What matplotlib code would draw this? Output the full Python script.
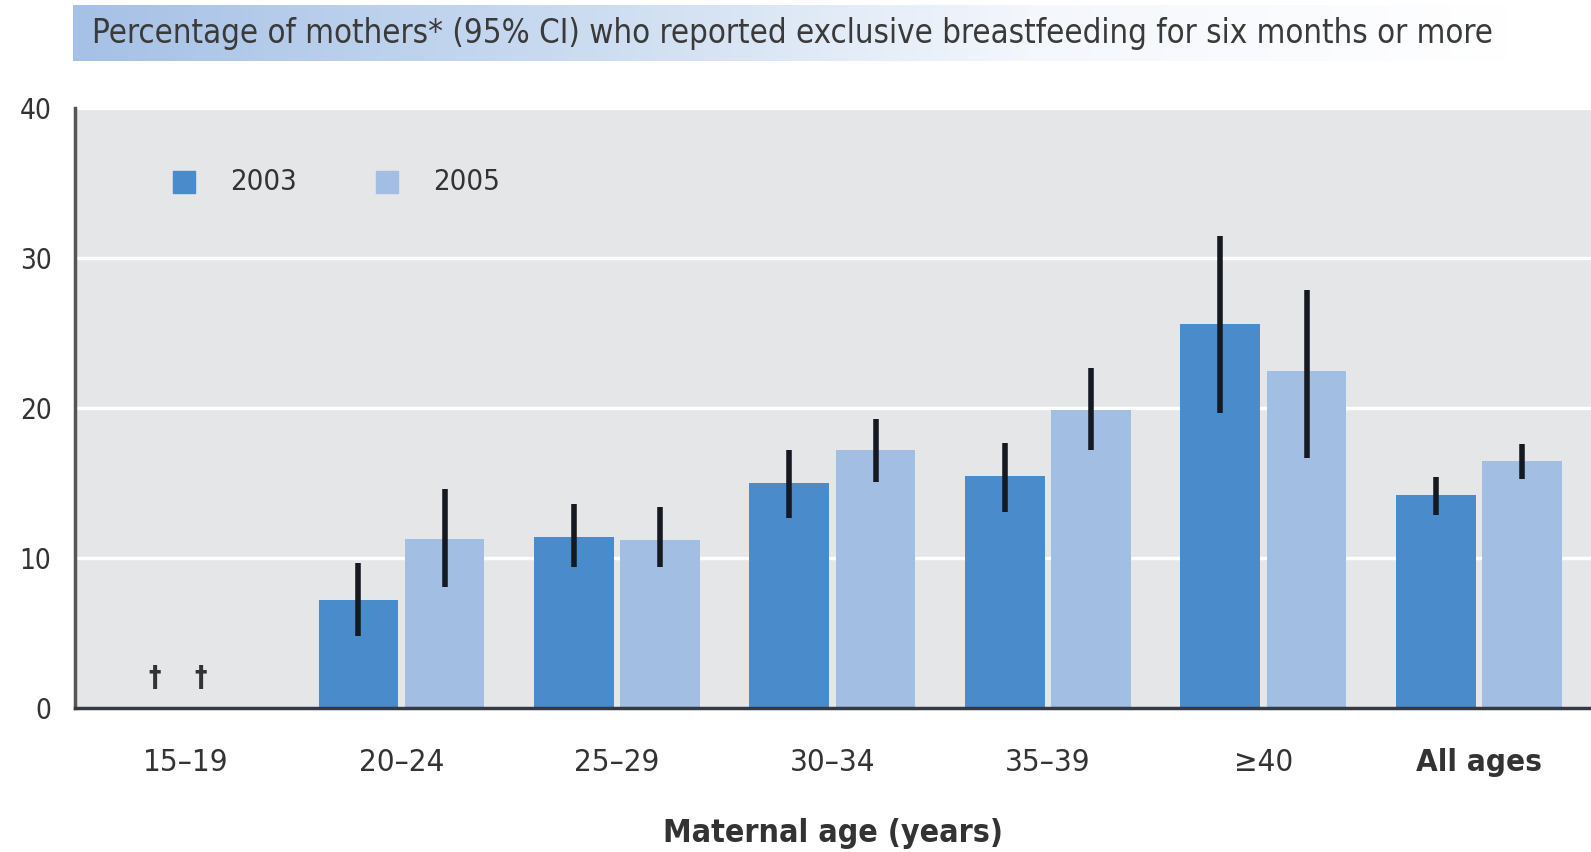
#!/usr/bin/env python3
# -*- coding: utf-8 -*-
import numpy as np
import matplotlib
matplotlib.use("Agg")
from matplotlib import pyplot as plt
from matplotlib.colors import LinearSegmentedColormap

plt.rcParams['font.family'] = ['DejaVu Sans']
plt.rcParams['font.stretch'] = 'condensed'

# Exclusive breastfeeding >= 6 months, by maternal age
groups = ["15\u201319", "20\u201324", "25\u201329", "30\u201334", "35\u201339", "\u226540", "All ages"]
pct_2003 = [np.nan, 7.2, 11.4, 15.0, 15.5, 25.6, 14.2]
lo_2003 = [np.nan, 4.8, 9.4, 12.7, 13.1, 19.7, 12.9]
hi_2003 = [np.nan, 9.7, 13.6, 17.2, 17.7, 31.5, 15.4]
pct_2005 = [np.nan, 11.3, 11.2, 17.2, 19.9, 22.5, 16.5]
lo_2005 = [np.nan, 8.1, 9.4, 15.1, 17.2, 16.7, 15.3]
hi_2005 = [np.nan, 14.6, 13.4, 19.3, 22.7, 27.9, 17.6]
years = ["2003", "2005"]

dark = "#4a8bcb"
light = "#a3bee3"

fig = plt.figure(figsize=(15.91, 8.52), dpi=100)

# title banner with a fading blue background
tax = fig.add_axes([73/1591, 1-61/852, (1512-73)/1591, 56/852])
cmap = LinearSegmentedColormap.from_list("fade", ["#a6c1e6", "#c9daf0", "#f4f7fc", "#ffffff"])
tax.imshow(np.linspace(0, 1, 256)[None, :], aspect="auto", cmap=cmap, extent=[0, 1, 0, 1])
tax.set_axis_off()
tax.text(0.013, 0.5, "Percentage of mothers* (95% CI) who reported exclusive breastfeeding for six months or more",
         va="center", ha="left", fontsize=23.7, color="#3a3a3a", transform=tax.transAxes)

ax = fig.add_axes([75/1591, 1-708/852, 1-75/1591, 600/852])
ax.set_facecolor("#e5e6e8")
x = np.arange(len(groups))
w = 0.37
off = 0.2

a = np.array(pct_2003)
b = np.array(pct_2005)
ax.bar(x - off, a, w, color=dark, zorder=2)
ax.bar(x + off, b, w, color=light, zorder=2)
ax.vlines(x - off, lo_2003, hi_2003, color="#151a22", lw=4, zorder=3)
ax.vlines(x + off, lo_2005, hi_2005, color="#151a22", lw=4, zorder=3)

# suppressed estimates for the youngest group
for dx in (-0.145, 0.07):
    ax.text(x[0] + dx, 2.0, "\u2020", ha="center", va="center", fontsize=20, color="#333333",
            fontweight="bold")

ax.set_xlim(-0.515, 6.52)
ax.set_ylim(0, 40)
ax.set_yticks([0, 10, 20, 30, 40])
ax.yaxis.grid(True, color="white", lw=2.5, zorder=1)
ax.set_axisbelow(True)
for s in ("top", "right"):
    ax.spines[s].set_visible(False)
ax.spines["left"].set_color("#555555")
ax.spines["left"].set_linewidth(2.5)
ax.spines["bottom"].set_color("#333a44")
ax.spines["bottom"].set_linewidth(2.5)
ax.tick_params(axis="y", length=0, labelsize=20, labelcolor="#333333", pad=17)
ax.tick_params(axis="x", length=0, labelsize=22.5, labelcolor="#333333", pad=29)
ax.set_xticks(x)
ax.set_xticklabels(groups)
ax.get_xticklabels()[-1].set_fontweight("bold")
ax.set_xlabel("Maternal age (years)", fontsize=23, fontweight="bold", color="#333333", labelpad=29)

# legend
for i, (lab, c) in enumerate(zip(years, [dark, light])):
    lx = 0.072 + i * 0.134
    ax.scatter([lx], [0.876], s=260, marker="s", color=c, transform=ax.transAxes, zorder=4)
    ax.text(lx + 0.03, 0.876, lab, transform=ax.transAxes, va="center", ha="left",
            fontsize=21, color="#333333")

fig.savefig("out.png", dpi=100)
